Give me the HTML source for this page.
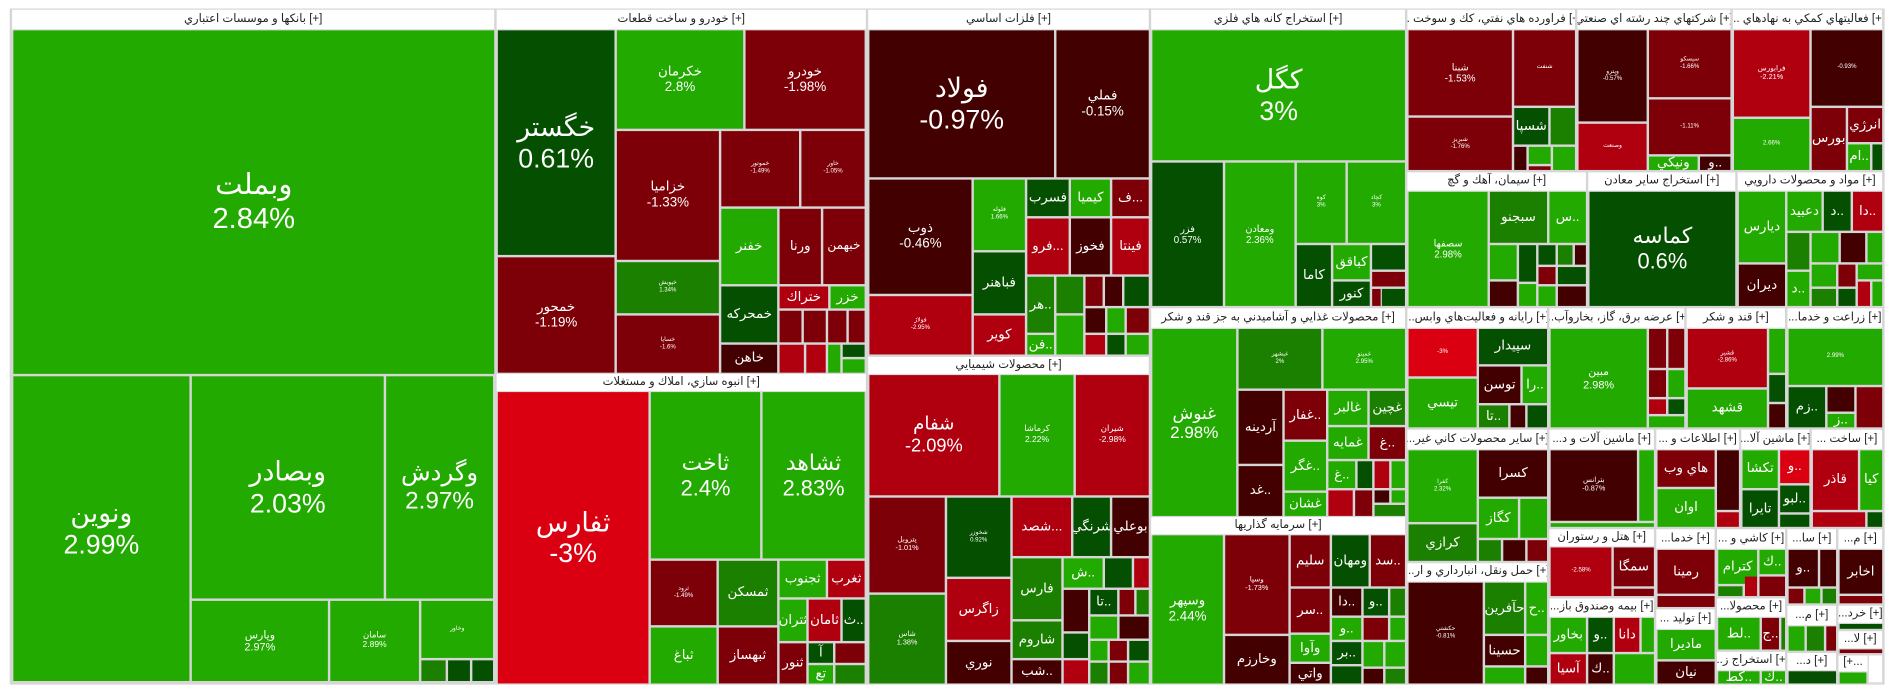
<!DOCTYPE html>
<html><head><meta charset="utf-8"><style>
html,body{margin:0;padding:0;background:#fff;width:1904px;height:698px;overflow:hidden}
#w{position:absolute;left:0;top:0;width:1568px;height:575px;transform:scale(1.2143,1.2139);transform-origin:0 0;}
#w div{position:absolute;box-sizing:border-box;overflow:hidden;display:flex;align-items:center;justify-content:center;text-align:center;color:#fff;font-family:"Liberation Sans","DejaVu Sans",sans-serif;font-size:11px;line-height:1.15;white-space:pre}
#w .h{background:#fff;color:#222;font-size:9.5px;border-bottom:1px solid #ddd}
.G{background:#22aa00}.M{background:#1b7f00}.D{background:#044f00}.R{background:#7d0008}.K{background:#430000}.r{background:#b00010}.B{background:#da0012}
#frame{left:8px;top:7px;width:1544px;height:557px;background:#d6d6d6}
</style></head><body><div id="w">
<div id="frame"></div>
<!-- Banks -->
<div class="h" style="left:10px;top:8px;width:397px;height:17px">بانکها و موسسات اعتباري [+]</div>
<div class="G" style="left:11px;top:25px;width:396px;height:283px;font-size:24px">وبملت
2.84%</div>
<div class="G" style="left:11px;top:310px;width:145px;height:251px;font-size:22px">ونوين
2.99%</div>
<div class="G" style="left:158px;top:310px;width:158px;height:183px;font-size:22px">وبصادر
2.03%</div>
<div class="G" style="left:318px;top:310px;width:88px;height:183px;font-size:20px">وگردش
2.97%</div>
<div class="G" style="left:158px;top:495px;width:112px;height:66px;font-size:9px">وپارس
2.97%</div>
<div class="G" style="left:272px;top:495px;width:73px;height:66px;font-size:7px">سامان
2.89%</div>
<div class="G" style="left:347px;top:495px;width:59px;height:47px;font-size:5px">وخاور</div>
<div class="M" style="left:347px;top:544px;width:20px;height:17px"></div>
<div class="D" style="left:369px;top:544px;width:18px;height:17px"></div>
<div class="D" style="left:389px;top:544px;width:17px;height:17px"></div>
<!-- Auto -->
<div class="h" style="left:409px;top:8px;width:304px;height:17px">خودرو و ساخت قطعات [+]</div>
<div class="D" style="left:410px;top:25px;width:96px;height:185px;font-size:22px">خگستر
0.61%</div>
<div class="R" style="left:410px;top:212px;width:96px;height:95px;font-size:11px">خمحور
-1.19%</div>
<div class="G" style="left:508px;top:25px;width:104px;height:81px">خكرمان
2.8%</div>
<div class="R" style="left:614px;top:25px;width:98px;height:81px">خودرو
-1.98%</div>
<div class="R" style="left:508px;top:108px;width:84px;height:106px">خزاميا
-1.33%</div>
<div class="R" style="left:594px;top:108px;width:64px;height:62px;font-size:5px">خموتور
-1.49%</div>
<div class="R" style="left:660px;top:108px;width:52px;height:62px;font-size:5px">خاور
-1.05%</div>
<div class="G" style="left:594px;top:172px;width:46px;height:62px">خفنر</div>
<div class="R" style="left:642px;top:172px;width:34px;height:62px">ورنا</div>
<div class="R" style="left:678px;top:172px;width:34px;height:62px;font-size:10px">خبهمن</div>
<div class="M" style="left:508px;top:216px;width:84px;height:42px;font-size:5px">خپويش
1.34%</div>
<div class="D" style="left:594px;top:236px;width:46px;height:46px">خمحركه</div>
<div class="r" style="left:642px;top:236px;width:40px;height:18px">ختراك</div>
<div class="G" style="left:684px;top:236px;width:28px;height:18px">خزر</div>
<div class="R" style="left:508px;top:260px;width:84px;height:47px;font-size:5px">خساپا
-1.6%</div>
<div class="K" style="left:594px;top:284px;width:46px;height:23px">خاهن</div>
<div class="R" style="left:642px;top:256px;width:18px;height:26px"></div>
<div class="R" style="left:662px;top:256px;width:18px;height:26px"></div>
<div class="R" style="left:682px;top:256px;width:15px;height:26px"></div>
<div class="R" style="left:699px;top:256px;width:13px;height:26px"></div>
<div class="r" style="left:642px;top:284px;width:20px;height:23px"></div>
<div class="r" style="left:664px;top:284px;width:16px;height:23px"></div>
<div class="G" style="left:682px;top:284px;width:10px;height:23px"></div>
<div class="D" style="left:694px;top:284px;width:18px;height:10px"></div>
<div class="G" style="left:694px;top:296px;width:18px;height:11px"></div>
<!-- Anboh -->
<div class="h" style="left:409px;top:308px;width:304px;height:15px">انبوه سازي، املاك و مستغلات [+]</div>
<div class="B" style="left:410px;top:323px;width:124px;height:240px;font-size:22px">ثفارس
-3%</div>
<div class="G" style="left:536px;top:323px;width:90px;height:137px;font-size:18px">ثاخت
2.4%</div>
<div class="G" style="left:628px;top:323px;width:84px;height:137px;font-size:18px">ثشاهد
2.83%</div>
<div class="R" style="left:536px;top:462px;width:54px;height:53px;font-size:5px">ثرود
-1.49%</div>
<div class="G" style="left:536px;top:517px;width:54px;height:46px">ثباغ</div>
<div class="M" style="left:592px;top:462px;width:48px;height:53px">ثمسكن</div>
<div class="R" style="left:592px;top:517px;width:48px;height:46px">ثبهساز</div>
<div class="G" style="left:642px;top:462px;width:38px;height:30px">ثجنوب</div>
<div class="r" style="left:682px;top:462px;width:30px;height:30px">ثغرب</div>
<div class="G" style="left:642px;top:494px;width:22px;height:34px">ثتران</div>
<div class="r" style="left:666px;top:494px;width:26px;height:34px">ثامان</div>
<div class="D" style="left:694px;top:494px;width:18px;height:34px">ث..</div>
<div class="R" style="left:642px;top:530px;width:22px;height:33px">ثنور</div>
<div class="D" style="left:666px;top:530px;width:20px;height:16px">آ</div>
<div class="G" style="left:666px;top:548px;width:20px;height:15px">تع</div>
<div class="R" style="left:688px;top:530px;width:24px;height:16px"></div>
<div class="M" style="left:688px;top:548px;width:24px;height:15px"></div>
<!-- Metals -->
<div class="h" style="left:715px;top:8px;width:231px;height:17px">فلزات اساسي [+]</div>
<div class="K" style="left:716px;top:25px;width:152px;height:121px;font-size:22px">فولاد
-0.97%</div>
<div class="K" style="left:870px;top:25px;width:76px;height:121px">فملي
-0.15%</div>
<div class="K" style="left:716px;top:148px;width:84px;height:94px">ذوب
-0.46%</div>
<div class="r" style="left:716px;top:244px;width:84px;height:48px;font-size:5px">فولاژ
-2.95%</div>
<div class="G" style="left:802px;top:148px;width:42px;height:58px;font-size:5px">فلوله
1.66%</div>
<div class="D" style="left:846px;top:148px;width:34px;height:30px">فسرب</div>
<div class="G" style="left:882px;top:148px;width:32px;height:30px">كيميا</div>
<div class="R" style="left:916px;top:148px;width:30px;height:30px">ف...</div>
<div class="D" style="left:802px;top:208px;width:42px;height:50px">فباهنر</div>
<div class="r" style="left:802px;top:260px;width:42px;height:32px">كوير</div>
<div class="r" style="left:846px;top:180px;width:34px;height:46px">فرو...</div>
<div class="K" style="left:882px;top:180px;width:32px;height:46px">فخوز</div>
<div class="r" style="left:916px;top:180px;width:30px;height:46px">فينتا</div>
<div class="M" style="left:846px;top:228px;width:22px;height:46px">هر..</div>
<div class="M" style="left:870px;top:228px;width:22px;height:30px"></div>
<div class="R" style="left:894px;top:228px;width:14px;height:24px"></div>
<div class="K" style="left:910px;top:228px;width:14px;height:24px"></div>
<div class="D" style="left:926px;top:228px;width:20px;height:24px"></div>
<div class="G" style="left:846px;top:276px;width:22px;height:16px">فن..</div>
<div class="G" style="left:870px;top:260px;width:22px;height:32px"></div>
<div class="K" style="left:894px;top:254px;width:16px;height:20px"></div>
<div class="G" style="left:912px;top:254px;width:14px;height:20px"></div>
<div class="R" style="left:928px;top:254px;width:18px;height:20px"></div>
<div class="r" style="left:894px;top:276px;width:16px;height:16px"></div>
<div class="D" style="left:912px;top:276px;width:14px;height:16px"></div>
<div class="G" style="left:928px;top:276px;width:18px;height:16px"></div>
<!-- Chemicals -->
<div class="h" style="left:715px;top:294px;width:231px;height:15px">محصولات شيميايي [+]</div>
<div class="r" style="left:716px;top:309px;width:106px;height:99px;font-size:15px">شفام
-2.09%</div>
<div class="G" style="left:824px;top:309px;width:60px;height:99px;font-size:7px">كرماشا
2.22%</div>
<div class="r" style="left:886px;top:309px;width:60px;height:99px;font-size:7px">شيران
-2.98%</div>
<div class="R" style="left:716px;top:410px;width:62px;height:78px;font-size:6px">پتروبل
-1.01%</div>
<div class="M" style="left:716px;top:490px;width:62px;height:73px;font-size:6px">شاس
1.38%</div>
<div class="D" style="left:780px;top:410px;width:52px;height:65px;font-size:5px">شخوزر
0.92%</div>
<div class="r" style="left:780px;top:477px;width:52px;height:50px">زاگرس</div>
<div class="K" style="left:780px;top:529px;width:52px;height:34px">نوري</div>
<div class="r" style="left:834px;top:410px;width:48px;height:48px">شصد...</div>
<div class="D" style="left:884px;top:410px;width:30px;height:48px">شرنگي</div>
<div class="K" style="left:916px;top:410px;width:30px;height:48px">بوعلي</div>
<div class="M" style="left:834px;top:460px;width:40px;height:50px">فارس</div>
<div class="M" style="left:834px;top:512px;width:40px;height:30px">شاروم</div>
<div class="K" style="left:834px;top:544px;width:40px;height:19px">شب..</div>
<div class="G" style="left:876px;top:460px;width:32px;height:24px">ش..</div>
<div class="D" style="left:910px;top:460px;width:22px;height:24px"></div>
<div class="r" style="left:934px;top:460px;width:12px;height:24px"></div>
<div class="K" style="left:876px;top:486px;width:20px;height:34px"></div>
<div class="D" style="left:898px;top:486px;width:22px;height:20px">تا..</div>
<div class="R" style="left:922px;top:486px;width:12px;height:20px"></div>
<div class="M" style="left:936px;top:486px;width:10px;height:20px"></div>
<div class="D" style="left:876px;top:522px;width:20px;height:20px"></div>
<div class="r" style="left:876px;top:544px;width:20px;height:19px"></div>
<div class="G" style="left:898px;top:508px;width:22px;height:18px"></div>
<div class="K" style="left:922px;top:508px;width:24px;height:18px"></div>
<div class="G" style="left:898px;top:528px;width:14px;height:16px"></div>
<div class="R" style="left:914px;top:528px;width:14px;height:16px"></div>
<div class="D" style="left:930px;top:528px;width:16px;height:16px"></div>
<div class="M" style="left:898px;top:546px;width:14px;height:17px"></div>
<div class="R" style="left:914px;top:546px;width:14px;height:17px"></div>
<div class="G" style="left:930px;top:546px;width:16px;height:17px"></div>
<!-- Mining -->
<div class="h" style="left:948px;top:8px;width:209px;height:17px">استخراج كانه هاي فلزي [+]</div>
<div class="G" style="left:949px;top:25px;width:208px;height:107px;font-size:22px">كگل
3%</div>
<div class="D" style="left:949px;top:134px;width:58px;height:118px;font-size:8px">فزر
0.57%</div>
<div class="G" style="left:1009px;top:134px;width:57px;height:118px;font-size:8px">ومعادن
2.36%</div>
<div class="G" style="left:1068px;top:134px;width:40px;height:66px;font-size:5px">كوه
3%</div>
<div class="G" style="left:1110px;top:134px;width:47px;height:66px;font-size:5px">كچاد
3%</div>
<div class="D" style="left:1068px;top:202px;width:28px;height:50px">كاما</div>
<div class="G" style="left:1098px;top:202px;width:30px;height:28px">كباقق</div>
<div class="D" style="left:1098px;top:232px;width:30px;height:20px">كنور</div>
<div class="D" style="left:1130px;top:202px;width:27px;height:20px"></div>
<div class="R" style="left:1130px;top:224px;width:27px;height:12px"></div>
<div class="D" style="left:1138px;top:238px;width:19px;height:14px"></div>
<div class="R" style="left:1130px;top:238px;width:7px;height:14px"></div>
<!-- Food -->
<div class="h" style="left:948px;top:254px;width:209px;height:17px">محصولات غذايي و آشاميدني به جز قند و شكر [+]</div>
<div class="G" style="left:949px;top:271px;width:69px;height:154px;font-size:14px">غنوش
2.98%</div>
<div class="M" style="left:1020px;top:271px;width:68px;height:49px;font-size:5px">غبشهر
2%</div>
<div class="G" style="left:1090px;top:271px;width:67px;height:49px;font-size:5px">غمينو
2.95%</div>
<div class="K" style="left:1020px;top:322px;width:36px;height:60px">آردينه</div>
<div class="K" style="left:1020px;top:384px;width:36px;height:41px">غد..</div>
<div class="R" style="left:1058px;top:322px;width:34px;height:40px">غفار..</div>
<div class="G" style="left:1058px;top:364px;width:34px;height:40px">غگر..</div>
<div class="G" style="left:1058px;top:406px;width:34px;height:19px">غشان</div>
<div class="G" style="left:1094px;top:322px;width:32px;height:28px">غالبر</div>
<div class="M" style="left:1128px;top:322px;width:29px;height:28px">غچين</div>
<div class="G" style="left:1094px;top:352px;width:32px;height:26px">غمايه</div>
<div class="R" style="left:1128px;top:352px;width:29px;height:26px">غ..</div>
<div class="G" style="left:1094px;top:380px;width:22px;height:22px">غ..</div>
<div class="D" style="left:1118px;top:380px;width:12px;height:22px"></div>
<div class="r" style="left:1132px;top:380px;width:12px;height:22px"></div>
<div class="G" style="left:1146px;top:380px;width:11px;height:22px"></div>
<div class="r" style="left:1094px;top:404px;width:20px;height:21px"></div>
<div class="R" style="left:1116px;top:404px;width:14px;height:21px"></div>
<div class="K" style="left:1132px;top:404px;width:12px;height:10px"></div>
<div class="G" style="left:1146px;top:404px;width:11px;height:10px"></div>
<div class="M" style="left:1132px;top:416px;width:25px;height:9px"></div>
<!-- Invest -->
<div class="h" style="left:948px;top:426px;width:209px;height:15px">سرمايه گذاريها [+]</div>
<div class="G" style="left:949px;top:441px;width:58px;height:122px;font-size:11px">وسپهر
2.44%</div>
<div class="R" style="left:1009px;top:441px;width:52px;height:81px;font-size:6px">وسپا
-1.73%</div>
<div class="K" style="left:1009px;top:524px;width:52px;height:39px">وخارزم</div>
<div class="R" style="left:1063px;top:441px;width:32px;height:42px">سليم</div>
<div class="D" style="left:1097px;top:441px;width:30px;height:42px">ومهان</div>
<div class="R" style="left:1129px;top:441px;width:28px;height:42px">سد..</div>
<div class="R" style="left:1063px;top:485px;width:32px;height:36px">سر..</div>
<div class="G" style="left:1063px;top:523px;width:32px;height:22px">وآوا</div>
<div class="K" style="left:1063px;top:547px;width:32px;height:16px">واتي</div>
<div class="K" style="left:1097px;top:485px;width:24px;height:22px">دا..</div>
<div class="D" style="left:1123px;top:485px;width:20px;height:22px">و..</div>
<div class="M" style="left:1145px;top:485px;width:12px;height:22px"></div>
<div class="G" style="left:1097px;top:509px;width:24px;height:18px">و..</div>
<div class="D" style="left:1097px;top:529px;width:24px;height:18px">بر..</div>
<div class="D" style="left:1097px;top:549px;width:24px;height:14px"></div>
<div class="R" style="left:1123px;top:509px;width:20px;height:18px"></div>
<div class="G" style="left:1145px;top:509px;width:12px;height:18px"></div>
<div class="G" style="left:1123px;top:529px;width:16px;height:20px"></div>
<div class="G" style="left:1141px;top:529px;width:16px;height:20px"></div>
<div class="K" style="left:1123px;top:551px;width:16px;height:12px"></div>
<div class="M" style="left:1141px;top:551px;width:16px;height:12px"></div>
<!-- Oil -->
<div class="h" style="left:1159px;top:8px;width:138px;height:17px">... فراورده هاي نفتي، كك و سوخت [+]</div>
<div class="R" style="left:1160px;top:25px;width:85px;height:70px;font-size:8px">شبنا
-1.53%</div>
<div class="R" style="left:1160px;top:97px;width:85px;height:43px;font-size:5px">شبريز
-1.76%</div>
<div class="R" style="left:1247px;top:25px;width:50px;height:62px;font-size:5px">شنفت</div>
<div class="D" style="left:1247px;top:89px;width:28px;height:30px">شسپا</div>
<div class="M" style="left:1277px;top:89px;width:20px;height:30px"></div>
<div class="K" style="left:1247px;top:121px;width:10px;height:19px"></div>
<div class="G" style="left:1259px;top:121px;width:18px;height:14px"></div>
<div class="R" style="left:1259px;top:137px;width:18px;height:3px"></div>
<div class="G" style="left:1279px;top:121px;width:18px;height:19px"></div>
<!-- Multi -->
<div class="h" style="left:1299px;top:8px;width:126px;height:17px">شركتهاي چند رشته اي صنعتي [+]</div>
<div class="K" style="left:1300px;top:25px;width:56px;height:75px;font-size:5px">وپترو
-0.57%</div>
<div class="r" style="left:1300px;top:102px;width:56px;height:38px;font-size:5px">وصنعت</div>
<div class="R" style="left:1358px;top:25px;width:67px;height:55px;font-size:5px">سيسكو
-1.66%</div>
<div class="R" style="left:1358px;top:82px;width:67px;height:45px;font-size:5px">-1.11%</div>
<div class="G" style="left:1358px;top:129px;width:40px;height:11px">ونيكي</div>
<div class="K" style="left:1400px;top:129px;width:25px;height:11px">و..</div>
<!-- Support -->
<div class="h" style="left:1427px;top:8px;width:123px;height:17px">... فعاليتهاي كمكي به نهادهاي [+]</div>
<div class="r" style="left:1428px;top:25px;width:62px;height:71px;font-size:6px">فرابورس
-2.21%</div>
<div class="K" style="left:1492px;top:25px;width:58px;height:62px;font-size:5px">-0.93%</div>
<div class="G" style="left:1428px;top:98px;width:62px;height:42px;font-size:5px">2.66%</div>
<div class="R" style="left:1492px;top:89px;width:28px;height:51px">بورس</div>
<div class="R" style="left:1522px;top:89px;width:28px;height:28px">انرژي</div>
<div class="G" style="left:1522px;top:119px;width:18px;height:21px">ام..</div>
<div class="D" style="left:1542px;top:119px;width:8px;height:21px"></div>
<!-- Cement -->
<div class="h" style="left:1159px;top:142px;width:147px;height:16px">سيمان، آهك و گچ [+]</div>
<div class="G" style="left:1160px;top:158px;width:65px;height:94px;font-size:8px">سصفها
2.98%</div>
<div class="M" style="left:1227px;top:158px;width:47px;height:42px">سبجنو</div>
<div class="G" style="left:1276px;top:158px;width:30px;height:42px">س..</div>
<div class="G" style="left:1227px;top:202px;width:22px;height:28px"></div>
<div class="K" style="left:1227px;top:232px;width:22px;height:20px"></div>
<div class="D" style="left:1251px;top:202px;width:14px;height:30px"></div>
<div class="G" style="left:1251px;top:234px;width:14px;height:18px"></div>
<div class="D" style="left:1267px;top:202px;width:14px;height:16px"></div>
<div class="M" style="left:1283px;top:202px;width:12px;height:16px"></div>
<div class="K" style="left:1297px;top:202px;width:9px;height:16px"></div>
<div class="R" style="left:1267px;top:220px;width:14px;height:14px"></div>
<div class="D" style="left:1283px;top:220px;width:23px;height:14px"></div>
<div class="G" style="left:1267px;top:236px;width:14px;height:16px"></div>
<div class="K" style="left:1283px;top:236px;width:23px;height:16px"></div>
<!-- Other mines -->
<div class="h" style="left:1308px;top:142px;width:121px;height:16px">استخراج ساير معادن [+]</div>
<div class="D" style="left:1309px;top:158px;width:120px;height:94px;font-size:18px">كماسه
0.6%</div>
<!-- Pharma -->
<div class="h" style="left:1431px;top:142px;width:119px;height:16px">مواد و محصولات دارويي [+]</div>
<div class="G" style="left:1432px;top:158px;width:38px;height:58px">ديارس</div>
<div class="K" style="left:1432px;top:218px;width:38px;height:34px">ديران</div>
<div class="G" style="left:1472px;top:158px;width:28px;height:32px">دعبيد</div>
<div class="D" style="left:1502px;top:158px;width:22px;height:32px">د..</div>
<div class="r" style="left:1526px;top:158px;width:24px;height:32px">دا..</div>
<div class="M" style="left:1472px;top:192px;width:18px;height:30px"></div>
<div class="G" style="left:1492px;top:192px;width:22px;height:24px"></div>
<div class="K" style="left:1516px;top:192px;width:20px;height:24px"></div>
<div class="G" style="left:1538px;top:192px;width:12px;height:24px"></div>
<div class="G" style="left:1472px;top:224px;width:18px;height:28px">د..</div>
<div class="G" style="left:1492px;top:218px;width:20px;height:18px"></div>
<div class="R" style="left:1514px;top:218px;width:14px;height:18px"></div>
<div class="G" style="left:1530px;top:218px;width:20px;height:12px"></div>
<div class="M" style="left:1492px;top:238px;width:20px;height:14px"></div>
<div class="D" style="left:1514px;top:238px;width:14px;height:14px"></div>
<div class="r" style="left:1530px;top:232px;width:10px;height:20px"></div>
<div class="G" style="left:1542px;top:232px;width:8px;height:20px"></div>
<!-- IT -->
<div class="h" style="left:1159px;top:254px;width:115px;height:17px">...رايانه و فعاليت‌هاي وابس [+]</div>
<div class="B" style="left:1160px;top:271px;width:56px;height:39px;font-size:5px">-3%</div>
<div class="G" style="left:1160px;top:312px;width:56px;height:40px">تيسي</div>
<div class="D" style="left:1218px;top:271px;width:56px;height:29px">سپيدار</div>
<div class="K" style="left:1218px;top:302px;width:34px;height:30px">توسن</div>
<div class="G" style="left:1254px;top:302px;width:20px;height:30px">را..</div>
<div class="M" style="left:1218px;top:334px;width:24px;height:18px">تا..</div>
<div class="K" style="left:1244px;top:334px;width:12px;height:18px"></div>
<div class="D" style="left:1258px;top:334px;width:16px;height:18px"></div>
<!-- Power -->
<div class="h" style="left:1276px;top:254px;width:111px;height:17px">...عرضه برق، گاز، بخاروآب [+]</div>
<div class="G" style="left:1277px;top:271px;width:79px;height:81px;font-size:9px">مبين
2.98%</div>
<div class="R" style="left:1358px;top:271px;width:14px;height:32px"></div>
<div class="R" style="left:1374px;top:271px;width:13px;height:32px"></div>
<div class="R" style="left:1358px;top:305px;width:14px;height:22px"></div>
<div class="G" style="left:1374px;top:305px;width:13px;height:22px"></div>
<div class="r" style="left:1358px;top:329px;width:14px;height:12px"></div>
<div class="D" style="left:1374px;top:329px;width:13px;height:12px"></div>
<div class="G" style="left:1358px;top:343px;width:29px;height:9px"></div>
<!-- Sugar -->
<div class="h" style="left:1389px;top:254px;width:81px;height:17px">قند و شكر [+]</div>
<div class="r" style="left:1390px;top:271px;width:65px;height:48px;font-size:5px">قشير
-2.86%</div>
<div class="G" style="left:1390px;top:321px;width:65px;height:31px">قشهد</div>
<div class="G" style="left:1457px;top:271px;width:13px;height:36px"></div>
<div class="D" style="left:1457px;top:309px;width:13px;height:22px"></div>
<div class="K" style="left:1457px;top:333px;width:13px;height:19px"></div>
<!-- Agri -->
<div class="h" style="left:1472px;top:254px;width:78px;height:17px">...زراعت و خدما [+]</div>
<div class="G" style="left:1473px;top:271px;width:77px;height:46px;font-size:5px">2.99%</div>
<div class="D" style="left:1473px;top:319px;width:30px;height:33px">زم..</div>
<div class="K" style="left:1505px;top:319px;width:22px;height:20px"></div>
<div class="G" style="left:1505px;top:341px;width:22px;height:11px">ز..</div>
<div class="R" style="left:1529px;top:319px;width:21px;height:33px"></div>
<!-- Non-metal -->
<div class="h" style="left:1159px;top:354px;width:115px;height:17px">...ساير محصولات كاني غير [+]</div>
<div class="G" style="left:1160px;top:371px;width:56px;height:59px;font-size:5px">كفرا
2.32%</div>
<div class="M" style="left:1160px;top:432px;width:56px;height:30px">كرازي</div>
<div class="K" style="left:1218px;top:371px;width:56px;height:38px">كسرا</div>
<div class="G" style="left:1218px;top:411px;width:32px;height:32px">كگاز</div>
<div class="G" style="left:1252px;top:411px;width:22px;height:32px"></div>
<div class="M" style="left:1218px;top:445px;width:18px;height:17px"></div>
<div class="K" style="left:1238px;top:445px;width:18px;height:17px"></div>
<div class="R" style="left:1258px;top:445px;width:16px;height:17px"></div>
<!-- Transport -->
<div class="h" style="left:1159px;top:464px;width:115px;height:16px">...حمل ونقل، انبارداري و ار [+]</div>
<div class="K" style="left:1160px;top:480px;width:61px;height:83px;font-size:5px">حكشتي
-0.81%</div>
<div class="M" style="left:1223px;top:480px;width:32px;height:42px">حآفرين</div>
<div class="G" style="left:1257px;top:480px;width:17px;height:42px">ح..</div>
<div class="K" style="left:1223px;top:524px;width:32px;height:24px">حسينا</div>
<div class="G" style="left:1223px;top:550px;width:32px;height:13px"></div>
<div class="G" style="left:1257px;top:524px;width:17px;height:24px"></div>
<div class="K" style="left:1257px;top:550px;width:17px;height:13px"></div>
<!-- Machinery -->
<div class="h" style="left:1276px;top:354px;width:86px;height:17px">...ماشين آلات و د [+]</div>
<div class="K" style="left:1277px;top:371px;width:71px;height:58px;font-size:6px">بترانس
-0.87%</div>
<div class="G" style="left:1350px;top:371px;width:12px;height:58px"></div>
<div class="G" style="left:1277px;top:431px;width:85px;height:3px"></div>
<!-- Hotel -->
<div class="h" style="left:1276px;top:436px;width:86px;height:15px">هتل و رستوران [+]</div>
<div class="r" style="left:1277px;top:451px;width:50px;height:40px;font-size:5px">-2.58%</div>
<div class="R" style="left:1329px;top:451px;width:33px;height:32px">سمگا</div>
<div class="R" style="left:1329px;top:485px;width:33px;height:6px"></div>
<!-- Insurance -->
<div class="h" style="left:1276px;top:493px;width:86px;height:16px">...بيمه وصندوق باز [+]</div>
<div class="G" style="left:1277px;top:509px;width:29px;height:28px">بخاور</div>
<div class="D" style="left:1308px;top:509px;width:20px;height:28px">و..</div>
<div class="r" style="left:1330px;top:509px;width:20px;height:28px">دانا</div>
<div class="G" style="left:1352px;top:509px;width:10px;height:28px"></div>
<div class="r" style="left:1277px;top:539px;width:29px;height:24px">آسيا</div>
<div class="K" style="left:1308px;top:539px;width:20px;height:24px">ك..</div>
<div class="G" style="left:1330px;top:539px;width:32px;height:24px"></div>
<!-- Info -->
<div class="h" style="left:1364px;top:354px;width:68px;height:17px">... اطلاعات و [+]</div>
<div class="R" style="left:1365px;top:371px;width:47px;height:30px">هاي وب</div>
<div class="G" style="left:1365px;top:403px;width:47px;height:31px">اوان</div>
<div class="K" style="left:1414px;top:371px;width:18px;height:49px"></div>
<div class="r" style="left:1414px;top:422px;width:18px;height:12px"></div>
<!-- Machinery 2 -->
<div class="h" style="left:1434px;top:354px;width:56px;height:17px">...ماشين آلا [+]</div>
<div class="G" style="left:1435px;top:371px;width:29px;height:31px">تكشا</div>
<div class="B" style="left:1466px;top:371px;width:24px;height:27px">و..</div>
<div class="D" style="left:1435px;top:404px;width:29px;height:30px">تايرا</div>
<div class="D" style="left:1466px;top:400px;width:24px;height:22px">لبو..</div>
<div class="D" style="left:1466px;top:424px;width:24px;height:10px"></div>
<!-- Build -->
<div class="h" style="left:1492px;top:354px;width:58px;height:17px">... ساخت [+]</div>
<div class="r" style="left:1493px;top:371px;width:37px;height:49px">قاذر</div>
<div class="G" style="left:1532px;top:371px;width:18px;height:49px">كيا</div>
<div class="r" style="left:1493px;top:422px;width:43px;height:12px"></div>
<div class="D" style="left:1538px;top:422px;width:12px;height:12px"></div>
<!-- small sectors -->
<div class="h" style="left:1364px;top:436px;width:48px;height:17px">...خدما [+]</div>
<div class="R" style="left:1365px;top:453px;width:47px;height:36px">رمينا</div>
<div class="R" style="left:1365px;top:491px;width:47px;height:9px"></div>
<div class="h" style="left:1364px;top:502px;width:48px;height:17px">... توليد [+]</div>
<div class="G" style="left:1365px;top:519px;width:47px;height:24px">ماديرا</div>
<div class="K" style="left:1365px;top:545px;width:47px;height:18px">نيان</div>
<div class="h" style="left:1414px;top:436px;width:56px;height:17px">... كاشي و [+]</div>
<div class="G" style="left:1415px;top:453px;width:32px;height:28px">كترام</div>
<div class="G" style="left:1449px;top:453px;width:21px;height:20px">ك..</div>
<div class="M" style="left:1415px;top:483px;width:20px;height:8px"></div>
<div class="r" style="left:1437px;top:475px;width:10px;height:16px"></div>
<div class="R" style="left:1449px;top:475px;width:21px;height:16px"></div>
<div class="h" style="left:1414px;top:493px;width:56px;height:16px">...محصولا [+]</div>
<div class="G" style="left:1415px;top:509px;width:34px;height:26px">لط..</div>
<div class="R" style="left:1451px;top:509px;width:14px;height:26px">ج..</div>
<div class="M" style="left:1467px;top:509px;width:3px;height:26px"></div>
<div class="h" style="left:1414px;top:537px;width:56px;height:16px">...استخراج ز [+]</div>
<div class="G" style="left:1415px;top:553px;width:34px;height:10px">كط..</div>
<div class="G" style="left:1451px;top:553px;width:19px;height:10px">ك..</div>
<div class="h" style="left:1472px;top:436px;width:40px;height:17px">...سا [+]</div>
<div class="K" style="left:1473px;top:453px;width:24px;height:30px">و..</div>
<div class="K" style="left:1499px;top:453px;width:13px;height:30px"></div>
<div class="R" style="left:1473px;top:485px;width:12px;height:12px"></div>
<div class="G" style="left:1487px;top:485px;width:12px;height:12px"></div>
<div class="M" style="left:1501px;top:485px;width:11px;height:12px"></div>
<div class="h" style="left:1514px;top:436px;width:36px;height:17px">...م [+]</div>
<div class="K" style="left:1515px;top:453px;width:35px;height:36px">اخابر</div>
<div class="R" style="left:1515px;top:491px;width:35px;height:6px"></div>
<div class="h" style="left:1472px;top:499px;width:40px;height:17px">...م [+]</div>
<div class="G" style="left:1473px;top:516px;width:13px;height:20px"></div>
<div class="M" style="left:1488px;top:516px;width:14px;height:20px"></div>
<div class="R" style="left:1504px;top:516px;width:8px;height:20px"></div>
<div class="h" style="left:1514px;top:499px;width:36px;height:15px">...خرد [+]</div>
<div class="D" style="left:1515px;top:514px;width:35px;height:4px"></div>
<div class="h" style="left:1514px;top:520px;width:36px;height:15px">...لا [+]</div>
<div class="R" style="left:1515px;top:535px;width:35px;height:3px"></div>
<div class="h" style="left:1472px;top:538px;width:40px;height:15px">...د [+]</div>
<div class="D" style="left:1473px;top:553px;width:39px;height:10px"></div>
<div class="h" style="left:1514px;top:540px;width:24px;height:14px">[+...</div>
<div class="G" style="left:1515px;top:554px;width:22px;height:9px"></div>
<div class="h" style="left:1539px;top:540px;width:11px;height:23px"></div>
</div></body></html>
